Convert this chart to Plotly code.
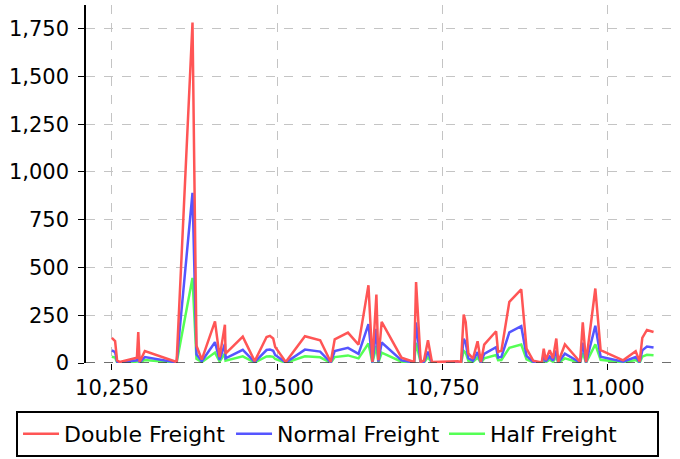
import plotly.graph_objects as go

# order ids on the x axis
order_ids = [
    10250, 10255, 10258, 10262, 10288, 10290, 10292, 10300, 10348, 10372,
    10378, 10386, 10406, 10413, 10421, 10422, 10448, 10466, 10484, 10489,
    10494, 10497, 10513, 10542, 10565, 10581, 10587, 10607, 10623, 10638,
    10644, 10650, 10653, 10658, 10688, 10703, 10707, 10710, 10717, 10722,
    10728, 10734, 10773, 10778, 10782, 10785, 10789, 10796, 10803, 10808,
    10813, 10831, 10834, 10839, 10851, 10869, 10877, 10887, 10900, 10903,
    10906, 10912, 10917, 10922, 10925, 10935, 10958, 10962, 10967, 10981,
    10989, 11023, 11042, 11048, 11052, 11059, 11069,
]

double_freight = [
    132, 115, 14, 5, 28, 162, 5, 63, 5, 1782,
    90, 18, 218, 31, 200, 49, 138, 10, 136, 142,
    128, 84, 5, 140, 119, 5, 124, 159, 96, 407,
    5, 358, 14, 215, 28, 12, 5, 424, 5, 14,
    119, 5, 9, 5, 253, 215, 50, 23, 114, 5,
    96, 166, 58, 64, 320, 385, 75, 12, 3, 75,
    15, 67, 25, 128, 5, 97, 5, 213, 5, 390,
    67, 14, 62, 7, 132, 173, 162,
]

normal_freight = [
    66, 57.5, 7, 2.5, 14, 81, 2.5, 31.5, 2.5, 891,
    45, 9, 109, 15.5, 100, 24.5, 69, 5, 68, 71,
    64, 42, 2.5, 70, 59.5, 2.5, 62, 79.5, 48, 203.5,
    2.5, 179, 7, 107.5, 14, 6, 2.5, 212, 2.5, 7,
    59.5, 2.5, 4.5, 2.5, 126.5, 107.5, 25, 11.5, 57, 2.5,
    48, 83, 29, 32, 160, 192.5, 37.5, 6, 1.5, 37.5,
    7.5, 33.5, 12.5, 64, 2.5, 48.5, 2.5, 106.5, 2.5, 195,
    33.5, 7, 31, 3.5, 66, 86.5, 81,
]

half_freight = [
    33, 28.8, 3.5, 1.3, 7, 40.5, 1.3, 15.8, 1.3, 445.5,
    22.5, 4.5, 54.5, 7.8, 50, 12.3, 34.5, 2.5, 34, 35.5,
    32, 21, 1.3, 35, 29.8, 1.3, 31, 39.8, 24, 101.8,
    1.3, 89.5, 3.5, 53.8, 7, 3, 1.3, 106, 1.3, 3.5,
    29.8, 1.3, 2.3, 1.3, 63.3, 53.8, 12.5, 5.8, 28.5, 1.3,
    24, 41.5, 14.5, 16, 80, 96.3, 18.8, 3, 0.8, 18.8,
    3.8, 16.8, 6.3, 32, 1.3, 24.3, 1.3, 53.3, 1.3, 97.5,
    16.8, 3.5, 15.5, 1.8, 33, 43.3, 40.5,
]

x_ticks = [10250, 10500, 10750, 11000]
y_ticks = [0, 250, 500, 750, 1000, 1250, 1500, 1750]

RED = "#FF5555"
BLUE = "#5555FF"
GREEN = "#55FF55"
FONT = "DejaVu Sans"

fig = go.Figure()
# drawn bottom-up so the red line sits on top, legend reversed to match
for name, ys, col in [
    ("Half Freight", half_freight, GREEN),
    ("Normal Freight", normal_freight, BLUE),
    ("Double Freight", double_freight, RED),
]:
    fig.add_trace(go.Scatter(x=order_ids, y=ys, mode="lines", name=name,
                             line={"color": col, "width": 2.5}))

axis_common = dict(
    showgrid=True, gridcolor="#c4c4c4", griddash="dash", gridwidth=1,
    ticks="outside", ticklen=6, tickcolor="black", tickwidth=1,
    tickformat=",d", zeroline=False, automargin=False,
    tickfont={"family": FONT, "size": 21, "color": "black"},
)

fig.update_xaxes(range=[10211, 11109], tickvals=x_ticks, showline=False, **axis_common)
fig.update_yaxes(range=[0, 1874], tickvals=y_ticks, showline=True, linecolor="black",
                 linewidth=1.5, ticklabelstandoff=5, **axis_common)

# dark dashed baseline at zero
fig.add_shape(type="line", xref="paper", yref="y", x0=0, x1=1, y0=0, y1=0,
              line={"color": "#404040", "width": 1.5, "dash": "dash"})

fig.update_layout(
    width=680, height=459,
    margin={"l": 86, "r": 0, "t": 5, "b": 96, "autoexpand": False},
    paper_bgcolor="white", plot_bgcolor="white",
    font={"family": FONT, "size": 21, "color": "black"},
    showlegend=True,
    # anchored left of the plot area so plotly lets the row span the full width
    legend={
        "orientation": "h", "xref": "paper", "yref": "paper",
        "x": -0.1178, "xanchor": "left", "y": -0.134, "yanchor": "top",
        "traceorder": "reversed", "entrywidth": 162, "itemwidth": 36,
        "bordercolor": "black", "borderwidth": 2,
        "font": {"family": FONT, "size": 22, "color": "black"},
    },
)

# the page body has a default 8px margin; drop it so the figure sits at 0,0
fig.write_html("out.html", config={"displayModeBar": False},
               post_script="document.body.style.margin='0';")
